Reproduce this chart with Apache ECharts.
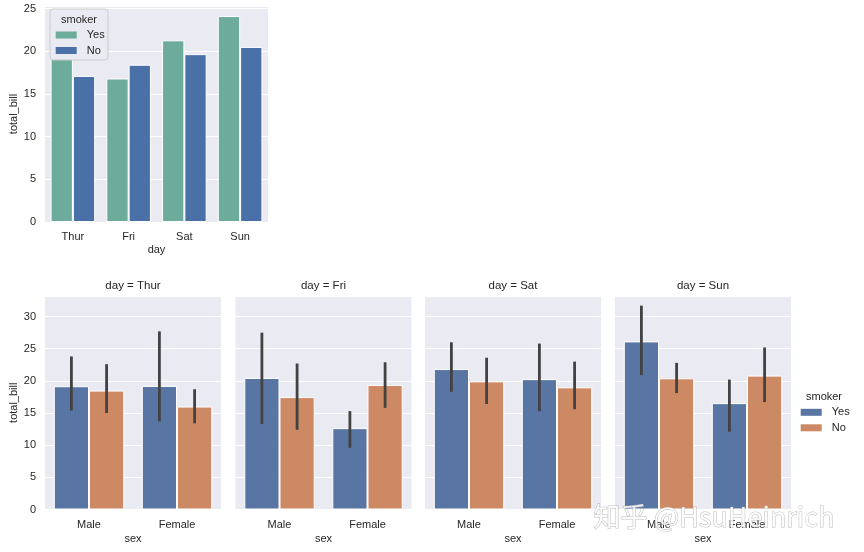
<!DOCTYPE html>
<html>
<head>
<meta charset="utf-8">
<script src="https://cdn.jsdelivr.net/npm/echarts@6/dist/echarts.min.js"></script>
<style>
  html, body { margin: 0; padding: 0; background: #fff; }
  #main { width: 864px; height: 552px; }
</style>
</head>
<body>
<div id="main"></div>
<script>
// data
var days = ['Thur', 'Fri', 'Sat', 'Sun'];
var sexes = ['Male', 'Female'];
var smoker = ['Yes', 'No'];

// top plot: mean total_bill by day
var dayYes = [19.19, 16.81, 21.28, 24.12];
var dayNo = [17.11, 18.42, 19.66, 20.51];

// facets, each row = [Male, Female]
var yesMean = [[19.17, 19.22], [20.45, 12.65], [21.84, 20.27], [26.14, 16.54]];
var noMean = [[18.49, 16.01], [17.48, 19.37], [19.93, 19.00], [20.40, 20.82]];
var yesLow = [[15.4, 13.7], [13.3, 9.6], [18.3, 15.3], [20.9, 12.1]];
var yesHigh = [[23.8, 27.7], [27.5, 15.3], [26.0, 25.8], [31.7, 20.2]];
var noLow = [[15.0, 13.4], [12.4, 15.8], [16.4, 15.6], [18.1, 16.7]];
var noHigh = [[22.6, 18.7], [22.7, 22.9], [23.6, 23.0], [22.8, 25.2]];

var FONT = "'Liberation Sans', Arial, sans-serif";
var TXT = '#262626';
var BG = '#eaeaf2';
var topColors = ['#6dab9b', '#4a70a8'];
var facetColors = ['#5975a4', '#cc8963'];

var myChart = echarts.init(document.getElementById('main'), null, { renderer: 'canvas' });

function tickFmt(v) {
    return v % 5 === 0 ? String(v) : '';
}

function errRender(side) {
    return function (params, api) {
        var band = api.size([1, 0])[0];
        var off = side * band * 0.2;
        var p1 = api.coord([api.value(0), api.value(1)]);
        var p2 = api.coord([api.value(0), api.value(2)]);
        return {
            type: 'line',
            shape: { x1: p1[0] + off, y1: p1[1], x2: p2[0] + off, y2: p2[1] },
            style: { stroke: '#424242', lineWidth: 2.8 }
        };
    };
}

var grids = [{ left: 45, top: 6, width: 223, height: 216 }];
var facetLeft = [45, 235.5, 425, 615];
for (var i = 0; i < 4; i++) {
    grids.push({ left: facetLeft[i], top: 296, width: 176, height: 213.5 });
}
grids.forEach(function (g) {
    g.show = true;
    g.backgroundColor = BG;
    g.borderWidth = 0;
    g.containLabel = false;
});

var xAxes = [], yAxes = [], series = [], graphics = [];

function makeX(idx, cats, name, gap, margin) {
    return {
        type: 'category', gridIndex: idx, data: cats,
        name: name, nameLocation: 'middle', nameGap: gap,
        nameTextStyle: { color: TXT, fontSize: 11, fontFamily: FONT },
        axisLine: { show: false }, axisTick: { show: false },
        axisLabel: { color: TXT, fontSize: 11, fontFamily: FONT, margin: margin },
        splitLine: { show: false }
    };
}
function makeY(idx, max, showLabel) {
    return {
        type: 'value', gridIndex: idx, min: 0, max: max, interval: 5,
        name: showLabel ? 'total_bill' : '', nameLocation: 'middle', nameGap: 26,
        nameTextStyle: { color: TXT, fontSize: 11, fontFamily: FONT },
        axisLine: { show: false }, axisTick: { show: false },
        axisLabel: { show: showLabel, color: TXT, fontSize: 11, fontFamily: FONT, margin: 9, formatter: tickFmt },
        splitLine: { show: true, lineStyle: { color: '#ffffff', width: 1 } }
    };
}

// top plot
xAxes.push(makeX(0, days, 'day', 22, 9));
yAxes.push(makeY(0, 25.3, true));
[dayYes, dayNo].forEach(function (vals, h) {
    series.push({
        name: smoker[h], type: 'bar', xAxisIndex: 0, yAxisIndex: 0,
        data: vals, barCategoryGap: '20%', barGap: '0%',
        itemStyle: { color: topColors[h], borderColor: '#ffffff', borderWidth: 1 },
        emphasis: { disabled: true }
    });
});

// facets
for (var d = 0; d < 4; d++) {
    var gi = d + 1;
    xAxes.push(makeX(gi, sexes, 'sex', 24, 10));
    yAxes.push(makeY(gi, 33.2, d === 0));
    var means = [yesMean[d], noMean[d]];
    var lows = [yesLow[d], noLow[d]];
    var highs = [yesHigh[d], noHigh[d]];
    for (var h = 0; h < 2; h++) {
        series.push({
            name: smoker[h], type: 'bar', xAxisIndex: gi, yAxisIndex: gi,
            data: means[h], barCategoryGap: '20%', barGap: '0%',
            itemStyle: { color: facetColors[h], borderColor: '#ffffff', borderWidth: 1 },
            emphasis: { disabled: true }
        });
    }
    for (var h2 = 0; h2 < 2; h2++) {
        var errData = [];
        for (var s = 0; s < 2; s++) errData.push([s, lows[h2][s], highs[h2][s]]);
        series.push({
            type: 'custom', xAxisIndex: gi, yAxisIndex: gi, z: 5,
            renderItem: errRender(h2 === 0 ? -1 : 1),
            encode: { x: 0, y: [1, 2] },
            data: errData, silent: true
        });
    }
    graphics.push({
        type: 'text', x: facetLeft[d] + 88, y: 286, z: 10,
        style: { text: 'day = ' + days[d], align: 'center', verticalAlign: 'middle',
                 textAlign: 'center', textVerticalAlign: 'middle',
                 fill: TXT, fontSize: 11.5, fontFamily: FONT }
    });
}

// top legend frame and titles
graphics.push({
    type: 'rect', z: 3,
    shape: { x: 50, y: 9, width: 58, height: 51, r: 3 },
    style: { fill: 'rgba(234,234,242,0.8)', stroke: '#cccccc', lineWidth: 1 }
});
graphics.push({
    type: 'text', x: 79, y: 19.5, z: 10,
    style: { text: 'smoker', align: 'center', verticalAlign: 'middle',
             textAlign: 'center', textVerticalAlign: 'middle',
             fill: TXT, fontSize: 11, fontFamily: FONT }
});
graphics.push({
    type: 'text', x: 824, y: 397, z: 10,
    style: { text: 'smoker', align: 'center', verticalAlign: 'middle',
             textAlign: 'center', textVerticalAlign: 'middle',
             fill: TXT, fontSize: 11, fontFamily: FONT }
});
// watermark
graphics.push({
    type: 'text', x: 714, y: 517, z: 20,
    style: { text: '知乎 @HsuHeinrich', align: 'center', verticalAlign: 'middle',
             textAlign: 'center', textVerticalAlign: 'middle',
             fill: 'rgba(255,255,255,0.85)', stroke: 'rgba(150,150,150,0.6)', lineWidth: 1,
             fontSize: 27, fontFamily: "'Noto Sans CJK SC', 'Liberation Sans', sans-serif" }
});

function makeLegend(left, top, colors) {
    return {
        orient: 'vertical', left: left, top: top, z: 10,
        selectedMode: false, icon: 'rect',
        itemWidth: 21, itemHeight: 7, itemGap: 2.5,
        data: smoker.map(function (n, k) {
            return { name: n, itemStyle: { color: colors[k], borderWidth: 0 } };
        }),
        itemStyle: { borderWidth: 0 },
        textStyle: { color: TXT, fontSize: 11, fontFamily: FONT, lineHeight: 13, padding: [0, 0, 0, 5] },
        padding: 0
    };
}

var option = {
    animation: false,
    backgroundColor: '#ffffff',
    grid: grids,
    xAxis: xAxes,
    yAxis: yAxes,
    legend: [makeLegend(55.7, 28.5, topColors), makeLegend(800.7, 405.8, facetColors)],
    series: series,
    graphic: graphics
};

myChart.setOption(option);
</script>
</body>
</html>
